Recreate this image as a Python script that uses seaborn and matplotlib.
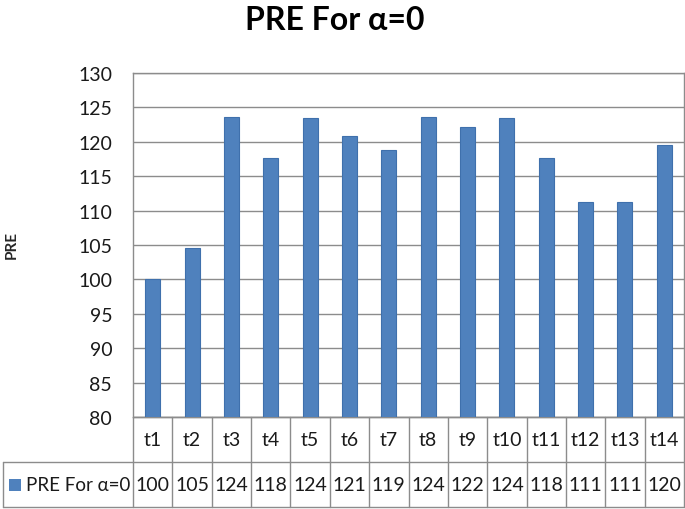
import matplotlib
matplotlib.use("Agg")
import matplotlib.pyplot as plt
from matplotlib.patches import Rectangle
import seaborn as sns
import pandas as pd

categories = ["t1", "t2", "t3", "t4", "t5", "t6", "t7", "t8", "t9", "t10", "t11", "t12", "t13", "t14"]
pre_values = [100.0, 104.6, 123.6, 117.7, 123.4, 120.8, 118.8, 123.6, 122.2, 123.4, 117.7, 111.2, 111.2, 119.6]
table_values = [100, 105, 124, 118, 124, 121, 119, 124, 122, 124, 118, 111, 111, 120]
series_name = "PRE For \u03b1=0"
y_ticks = [80, 85, 90, 95, 100, 105, 110, 115, 120, 125, 130]

sns.set_theme(style="white")
plt.rcParams["font.family"] = ["Lato", "DejaVu Sans"]

W, H = 685, 510
fig = plt.figure(figsize=(W / 100, H / 100), dpi=100)
left_px, right_px, top_px, bottom_px = 133, 684, 74, 418
ax_w_px = right_px - left_px
ax_h_px = bottom_px - top_px
ax = fig.add_axes([left_px / W, 1 - bottom_px / H, ax_w_px / W, ax_h_px / H])

df = pd.DataFrame({"cat": categories, "val": pre_values})
bar_color = "#4F81BD"
sns.barplot(data=df, x="cat", y="val", color=bar_color, saturation=1, width=0.38,
            edgecolor="#3F70AC", linewidth=0.8, ax=ax, zorder=3)

ax.set_ylim(80, 130)
ax.set_xlim(-0.5, len(categories) - 0.5)
ax.set_yticks(y_ticks)
ax.set_yticklabels([str(t) for t in y_ticks], fontsize=14, color="#1a1a1a")
ax.tick_params(axis="y", length=0, pad=15)
ax.set_xticks([])
ax.set_xlabel("")
ax.set_ylabel("")
grid_c = "#8c8c8c"
ax.yaxis.grid(True, color=grid_c, linewidth=1.0, zorder=0)
ax.set_axisbelow(True)
for s in ax.spines.values():
    s.set_color(grid_c)
    s.set_linewidth(1.0)

# Data table below the plot
n = len(categories)
row_h = 45 / ax_h_px
left_cell = -(left_px - 3) / ax_w_px
tr = ax.transAxes
line_kw = dict(color=grid_c, linewidth=1.0, transform=tr, clip_on=False)
ax.plot([0, 1], [0, 0], **line_kw)
ax.plot([left_cell, 1], [-row_h, -row_h], **line_kw)
ax.plot([left_cell, 1], [-2 * row_h, -2 * row_h], **line_kw)
for i in range(n + 1):
    x = i / n
    ax.plot([x, x], [0, -2 * row_h], **line_kw)
ax.plot([left_cell, left_cell], [-row_h, -2 * row_h], **line_kw)

for i, (c, v) in enumerate(zip(categories, table_values)):
    xc = (i + 0.5) / n
    ax.text(xc, -0.5 * row_h, c, transform=tr, ha="center", va="center", fontsize=14, color="#1a1a1a")
    ax.text(xc, -1.5 * row_h, f"{v}", transform=tr, ha="center", va="center", fontsize=14, color="#1a1a1a")

# legend key + series name
sq_w = 12 / ax_w_px
sq_h = 12 / ax_h_px
ax.add_patch(Rectangle(((9 - left_px) / ax_w_px, -1.5 * row_h - sq_h / 2), sq_w, sq_h,
                       transform=tr, clip_on=False, facecolor=bar_color, edgecolor="none"))
ax.text((26 - left_px) / ax_w_px, -1.5 * row_h, series_name, transform=tr, ha="left", va="center",
        fontsize=13.5, color="#1a1a1a")

fig.text(335 / W, 1 - 20 / H, series_name, ha="center", va="center", fontsize=23, fontweight="bold", color="#000000")
fig.text(12 / W, 1 - 245 / H, "PRE", ha="center", va="center", rotation=90, fontsize=11, fontweight="bold")

fig.savefig("out.png", dpi=100)
